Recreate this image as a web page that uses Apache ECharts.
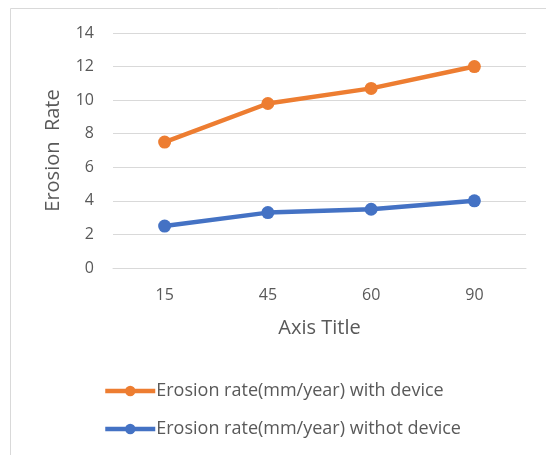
<!DOCTYPE html>
<html><head><meta charset="utf-8">
<script src="https://cdn.jsdelivr.net/npm/echarts@6/dist/echarts.min.js"></script>
<style>html,body{margin:0;padding:0;background:#fff}#c{width:546px;height:455px}</style>
</head><body><div id="c"></div>
<script>
const categories = ['15', '45', '60', '90'];
const withDevice = [7.5, 9.8, 10.7, 12];
const withoutDevice = [2.5, 3.3, 3.5, 4.0];
const seriesNames = ['Erosion rate(mm/year) with device', 'Erosion rate(mm/year) withot device'];
const chart = echarts.init(document.getElementById('c'));
const font = '"Open Sans", "DejaVu Sans", sans-serif';
chart.setOption({
  animation: false,
  textStyle: {fontFamily: font},
  graphic: [{type: 'rect', shape: {x: 10.5, y: 8.5, width: 600, height: 600}, style: {fill: 'none', stroke: '#d9d9d9', lineWidth: 1}, silent: true}],
  grid: {left: 113, right: 20, top: 33, bottom: 187},
  xAxis: {
    type: 'category', data: categories, boundaryGap: true,
    axisLine: {show: true, lineStyle: {color: '#d9d9d9', width: 1}},
    axisTick: {show: false},
    axisLabel: {color: '#595959', fontSize: 16, margin: 19, fontFamily: font},
    name: 'Axis Title', nameLocation: 'middle', nameGap: 50,
    nameTextStyle: {color: '#595959', fontSize: 20, fontFamily: font}
  },
  yAxis: {
    type: 'value', min: 0, max: 14, interval: 2,
    axisLine: {show: false}, axisTick: {show: false},
    splitLine: {lineStyle: {color: '#d9d9d9', width: 1}},
    axisLabel: {color: '#595959', fontSize: 16, margin: 19, fontFamily: font},
    name: 'Erosion  Rate', nameLocation: 'middle', nameGap: 50,
    nameTextStyle: {color: '#595959', fontSize: 20, fontFamily: font}
  },
  legend: {
    orient: 'vertical', left: 98, top: 377, itemGap: 20,
    itemWidth: 50, itemHeight: 13,
    lineStyle: {width: 4.5},
    textStyle: {color: '#595959', fontSize: 18, fontFamily: font, padding: [0, 0, 0, -4]},
    data: seriesNames
  },
  series: [
    {name: seriesNames[0], type: 'line', data: withDevice, symbol: 'circle', symbolSize: 13,
     lineStyle: {color: '#ed7d31', width: 4.5}, itemStyle: {color: '#ed7d31'}},
    {name: seriesNames[1], type: 'line', data: withoutDevice, symbol: 'circle', symbolSize: 13,
     lineStyle: {color: '#4472c4', width: 4.5}, itemStyle: {color: '#4472c4'}}
  ]
});
</script></body></html>
